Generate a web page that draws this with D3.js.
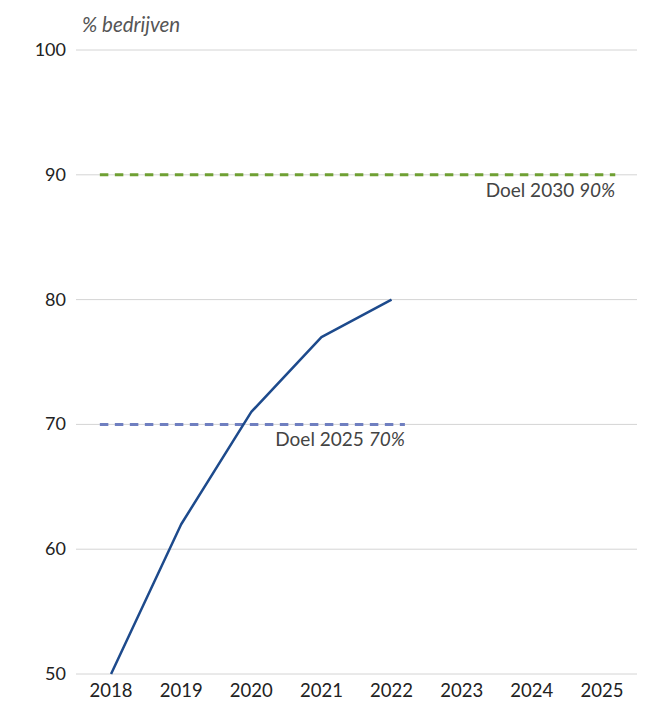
<!DOCTYPE html>
<html lang="nl">
  <head>
    <meta charset="utf-8">
    <title>% bedrijven</title>
    <script src="https://d3js.org/d3.v7.min.js"></script>
    <style>
      body { margin: 0; background: #fff; }
      svg text { font-family: Lato, "Open Sans", sans-serif; }
    </style>
  </head>
  <body>
    <div id="chart"></div>
    <script>
      // data
      var jaren = ["2018", "2019", "2020", "2021", "2022", "2023", "2024", "2025"];
      var gemeten = [
        {jaar: "2018", waarde: 50},
        {jaar: "2019", waarde: 62},
        {jaar: "2020", waarde: 71},
        {jaar: "2021", waarde: 77},
        {jaar: "2022", waarde: 80}
      ];
      var doelen = [
        {naam: "Doel 2030", waarde: 90, van: "2018", tot: "2025", kleur: "#6fa033"},
        {naam: "Doel 2025", waarde: 70, van: "2018", tot: "2022", kleur: "#6f7fc0"}
      ];
      var yTicks = [50, 60, 70, 80, 90, 100];

      var breedte = 659, hoogte = 701;
      var margin = {top: 50, right: 22, bottom: 27, left: 76};

      var svg = d3.select("#chart").append("svg")
        .attr("width", breedte)
        .attr("height", hoogte);

      var x = d3.scaleBand()
        .domain(jaren)
        .range([margin.left, breedte - margin.right])
        .padding(0);

      var y = d3.scaleLinear()
        .domain([50, 100])
        .range([hoogte - margin.bottom, margin.top]);

      // rasterlijnen
      svg.append("g")
        .selectAll("line")
        .data(yTicks)
        .join("line")
          .attr("x1", margin.left)
          .attr("x2", breedte - margin.right)
          .attr("y1", d => y(d))
          .attr("y2", d => y(d))
          .attr("stroke", "#d4d4d4")
          .attr("stroke-width", 1);

      // y labels
      svg.append("g")
        .selectAll("text")
        .data(yTicks)
        .join("text")
          .attr("x", margin.left - 10)
          .attr("y", d => y(d) + 6)
          .attr("text-anchor", "end")
          .attr("font-size", 18)
          .attr("fill", "#222")
          .text(d => d);

      // x labels
      svg.append("g")
        .selectAll("text")
        .data(jaren)
        .join("text")
          .attr("x", d => x(d) + x.bandwidth() / 2)
          .attr("y", hoogte - 4)
          .attr("text-anchor", "middle")
          .attr("font-size", 18.5)
          .attr("fill", "#222")
          .text(d => d);

      svg.append("text")
        .attr("x", 82)
        .attr("y", 32)
        .attr("font-size", 20.5)
        .attr("font-style", "italic")
        .attr("fill", "#555")
        .text("% bedrijven");

      // doelen (gestippeld)
      var bw = x.bandwidth();
      var doel = svg.append("g")
        .selectAll("g")
        .data(doelen)
        .join("g");

      doel.append("line")
        .attr("x1", d => x(d.van) + bw * 0.34)
        .attr("x2", d => x(d.tot) + bw * 0.69)
        .attr("y1", d => y(d.waarde))
        .attr("y2", d => y(d.waarde))
        .attr("stroke", d => d.kleur)
        .attr("stroke-width", 3)
        .attr("stroke-dasharray", "8.5,6.5");

      var lbl = doel.append("text")
        .attr("x", d => x(d.tot) + bw * 0.69)
        .attr("y", d => y(d.waarde) + 22)
        .attr("text-anchor", "end")
        .attr("font-size", 19)
        .attr("fill", "#444");
      lbl.append("tspan").text(d => d.naam + " ");
      lbl.append("tspan").attr("font-style", "italic").text(d => d.waarde + "%");

      // gemeten lijn
      var lijn = d3.line()
        .x(d => x(d.jaar) + bw / 2)
        .y(d => y(d.waarde));

      svg.append("path")
        .datum(gemeten)
        .attr("d", lijn)
        .attr("fill", "none")
        .attr("stroke", "#1d4a8c")
        .attr("stroke-width", 2.5)
        .attr("stroke-linejoin", "round");
    </script>
  </body>
</html>
